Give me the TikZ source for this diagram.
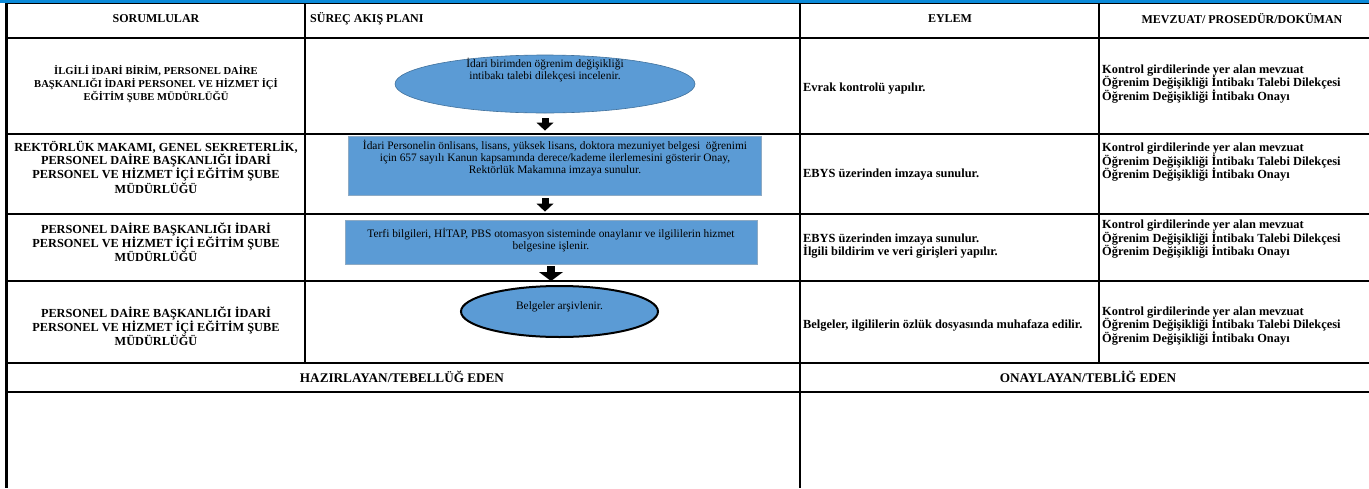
\documentclass[tikz,border=0pt]{standalone}
\usepackage{fontspec}
\setmainfont{Liberation Serif}
\usetikzlibrary{shapes.geometric,arrows.meta}
\definecolor{flowblue}{HTML}{5B9BD5}
\definecolor{flowedge}{HTML}{41719C}
\definecolor{topblue}{HTML}{0B8AD9}

\tikzset{
  tableline/.style={black,line width=1.6pt},
  header/.style={font=\bfseries\fontsize{12}{13}\selectfont,inner sep=0pt},
  imza/.style={font=\bfseries\fontsize{13.2}{14}\selectfont,inner sep=0pt},
  sorumlu/.style={font=\bfseries\fontsize{12.3}{13.2}\selectfont,align=center,inner sep=0pt},
  eylem/.style={font=\bfseries\fontsize{12.4}{13.5}\selectfont,align=left,anchor=west,inner sep=0pt},
  startend/.style={ellipse,fill=flowblue,draw=flowedge,line width=.6pt,inner sep=0pt},
  process/.style={rectangle,fill=flowblue,draw=flowedge!60,line width=.8pt,inner sep=0pt},
  flowtext/.style={font=\fontsize{11.4}{12}\selectfont,align=center,inner sep=0pt},
  flowarrow/.style={line width=7pt,-{Triangle[width=17pt,length=8pt,line width=0pt]}}
}

\begin{document}
\begin{tikzpicture}[x=1pt,y=-1pt]
    \useasboundingbox (0,0) rectangle (1369,488);
    %table frame
    \draw [topblue,line width=2.6pt] (0,1.3) -- (1369,1.3);
    \draw [tableline] (5,3.6) -- (1369,3.6);
    \draw [black,line width=3pt] (6.5,3) -- (6.5,488);
    \foreach \y in {38,134,214,281,363,392}
        \draw [tableline] (5,\y) -- (1369,\y);
    \draw [tableline] (305,3) -- (305,363);
    \draw [tableline] (800,3) -- (800,488);
    \draw [tableline] (1099,3) -- (1099,363);

    %column titles
    \node [header] (hsor) at (156,19) {SORUMLULAR};
    \node [header,anchor=west] (hakis) at (310,19) {SÜREÇ AKIŞ PLANI};
    \node [header] (heylem) at (950,19) {EYLEM};
    \node [header] (hmevz) at (1242,19) {MEVZUAT/ PROSEDÜR/DOKÜMAN};

    %responsible units
    \node [sorumlu,font=\bfseries\fontsize{10.6}{13.3}\selectfont] (sor1) at (156,84) {İLGİLİ İDARİ BİRİM, PERSONEL DAİRE\\BAŞKANLIĞI İDARİ PERSONEL VE HİZMET İÇİ\\EĞİTİM ŞUBE MÜDÜRLÜĞÜ};
    \node [sorumlu] (sor2) at (156,167) {REKTÖRLÜK MAKAMI, GENEL SEKRETERLİK,\\PERSONEL DAİRE BAŞKANLIĞI İDARİ\\PERSONEL VE HİZMET İÇİ EĞİTİM ŞUBE\\MÜDÜRLÜĞÜ};
    \node [sorumlu] (sor3) at (156,242) {PERSONEL DAİRE BAŞKANLIĞI İDARİ\\PERSONEL VE HİZMET İÇİ EĞİTİM ŞUBE\\MÜDÜRLÜĞÜ};
    \node [sorumlu] (sor4) at (156,326) {PERSONEL DAİRE BAŞKANLIĞI İDARİ\\PERSONEL VE HİZMET İÇİ EĞİTİM ŞUBE\\MÜDÜRLÜĞÜ};

    %flow
    \node [startend,minimum width=300pt,minimum height=58pt] (incele) at (545,84) {};
    \node [flowtext] (inceleT) at (545,70.5) {İdari birimden öğrenim değişikliği\\intibakı talebi dilekçesi incelenir.};
    \node [process,minimum width=413pt,minimum height=59pt] (onay) at (554.5,165.5) {};
    \node [flowtext] (onayT) at (555,158) {İdari Personelin önlisans, lisans, yüksek lisans, doktora mezuniyet belgesi\ \ öğrenimi\\için 657 sayılı Kanun kapsamında derece/kademe ilerlemesini gösterir Onay,\\Rektörlük Makamına imzaya sunulur.};
    \node [process,minimum width=412pt,minimum height=44pt] (terfi) at (551,242) {};
    \node [flowtext] (terfiT) at (551,240) {Terfi bilgileri, HİTAP, PBS otomasyon sisteminde onaylanır ve ilgililerin hizmet\\belgesine işlenir.};
    \node [startend,draw=black,line width=2pt,minimum width=197pt,minimum height=51pt] (arsiv) at (559.5,311.5) {};
    \node [flowtext] (arsivT) at (559.5,306.5) {Belgeler arşivlenir.};

    \draw [flowarrow,shorten <=5pt,shorten >=5pt] (incele.south) -- (incele.south |- onay.north);
    \draw [flowarrow,shorten <=3pt,shorten >=8pt] (incele.south |- onay.south) -- (incele.south |- terfi.north);
    \draw [flowarrow,line width=8pt,-{Triangle[width=24pt,length=9pt,line width=0pt]},shorten <=2pt,shorten >=4pt] (terfi.south) -- (terfi.south |- arsiv.north);

    %actions
    \node [eylem] (ey1) at (803,88.5) {Evrak kontrolü yapılır.};
    \node [eylem] (ey2) at (803,175) {EBYS üzerinden imzaya sunulur.};
    \node [eylem] (ey3) at (803,246) {EBYS üzerinden imzaya sunulur.\\İlgili bildirim ve veri girişleri yapılır.};
    \node [eylem] (ey4) at (803,325) {Belgeler, ilgililerin özlük dosyasında muhafaza edilir.};

    %documents
    \foreach \n/\y in {1/84,2/162.5,3/239.5,4/326}
        \node [eylem] (mev\n) at (1102,\y) {Kontrol girdilerinde yer alan mevzuat\\Öğrenim Değişikliği İntibakı Talebi Dilekçesi\\Öğrenim Değişikliği İntibakı Onayı};

    %signatures
    \node [imza] (hazir) at (402,377) {HAZIRLAYAN/TEBELLÜĞ EDEN};
    \node [imza] (onayl) at (1088,377) {ONAYLAYAN/TEBLİĞ EDEN};
\end{tikzpicture}
\end{document}
